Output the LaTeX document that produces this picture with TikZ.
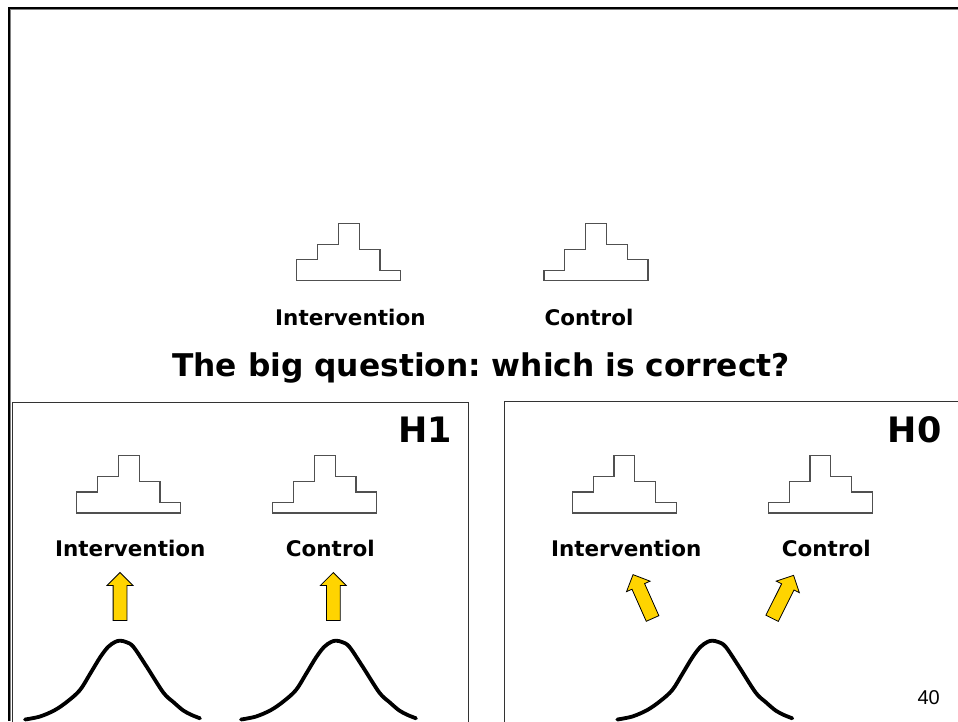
\documentclass[tikz,border=0pt]{standalone}
\usepackage{fontspec}
\setsansfont{DejaVu Sans}
\newfontfamily\pagenumfont{Liberation Sans}
\usetikzlibrary{shapes.arrows}
\definecolor{arrowFill}{HTML}{FFD400}
\definecolor{stairStroke}{HTML}{505050}
\definecolor{panelStroke}{HTML}{333333}
\definecolor{frameInner}{HTML}{808080}
\frenchspacing

\begin{document}
\begin{tikzpicture}[
    x=1pt, y=-1pt,
    groupLabel/.style={
        inner sep=0pt, anchor=base,
        font=\sffamily\bfseries\fontsize{21.5}{24}\selectfont
    },
    titleText/.style={
        inner sep=0pt, anchor=base,
        font=\sffamily\bfseries\fontsize{31.3}{36}\selectfont
    },
    hypText/.style={
        inner sep=0pt, anchor=base east,
        font=\sffamily\bfseries\fontsize{35}{40}\selectfont
    },
    pageNum/.style={
        inner sep=0pt, anchor=base,
        font=\pagenumfont\fontsize{20}{24}\selectfont
    },
    blockArrow/.style={
        single arrow, draw=black, line width=0.8pt,
        fill=arrowFill,
        minimum height=48pt, minimum width=25pt,
        single arrow head extend=6pt, inner sep=6.5pt
    },
    stairLine/.style={draw=stairStroke, line width=1.2pt},
    bell/.style={line width=3.8pt, line cap=round, line join=round},
    panel/.style={draw=panelStroke, line width=1pt},
    stairs/.pic={
        \path[stairLine] (0,0) -- (0,-21) -- (20.8,-21) -- (20.8,-36.5)
          -- (41.6,-36.5) -- (41.6,-57.3) -- (62.4,-57.3) -- (62.4,-31.3)
          -- (83.2,-31.3) -- (83.2,-10.3) -- (104,-10.3) -- (104,0) -- cycle;
    }
]
\clip (0,0) rectangle (958,721);

% Slide frame and the two hypothesis panels.
\draw[line width=2pt] (9,721) -- (9,8.3) -- (958,8.3);
\draw[frameInner, line width=1pt] (10.5,721) -- (10.5,9.8) -- (958,9.8);
\draw[panel] (12.3,402) rectangle (468,740);
\draw[panel] (504,401.5) rectangle (980,740);

% Question at the top.
\pic at (296.7,280.7) {stairs};
\pic[xscale=-1] at (648,280.7) {stairs};
\node[groupLabel] (interTop) at (350.4,325) {Intervention};
\node[groupLabel] (ctrlTop) at (589,325) {Control};
\node[titleText] (question) at (481,376.7) {The big question: which is correct?};

% H1: two separate populations.
\node[hypText] (hOne) at (452.3,442.3) {H1};
\pic at (76.7,513) {stairs};
\pic[xscale=-1] at (376.7,513) {stairs};
\node[groupLabel] (interA) at (130.3,556.7) {Intervention};
\node[groupLabel] (ctrlA) at (330.3,556.7) {Control};
\node[blockArrow, rotate=90] (pushA1) at (120,600) {};
\node[blockArrow, rotate=90] (pushA2) at (333.3,600) {};

% H0: one common population.
\node[hypText] (hZero) at (941.7,442.3) {H0};
\pic at (572.3,513) {stairs};
\pic[xscale=-1] at (872.3,513) {stairs};
\node[groupLabel] (interB) at (626.2,556.7) {Intervention};
\node[groupLabel] (ctrlB) at (826.3,556.7) {Control};
\node[blockArrow, rotate=114] (pushB1) at (644.2,599.7) {};
\node[blockArrow, rotate=63.4] (pushB2) at (781.3,599.9) {};

\foreach \peak in {120,336,712.3} {
  \draw[bell, shift={(\peak,0)}] plot[smooth, tension=0.55] coordinates {
    (-95,719.5) (-80,716.5) (-65,710) (-52,701) (-40,690) (-30,674)
    (-20,657.5) (-12,647) (-5,642) (0,640.7) (6,642) (13.3,646.7)
    (26.7,666.7) (43.3,692.5) (53.3,702) (63.3,710.5) (71.7,715)
    (80,718.3)};
}

\node[pageNum] (pageNo) at (928.7,704) {40};

\end{tikzpicture}
\end{document}
